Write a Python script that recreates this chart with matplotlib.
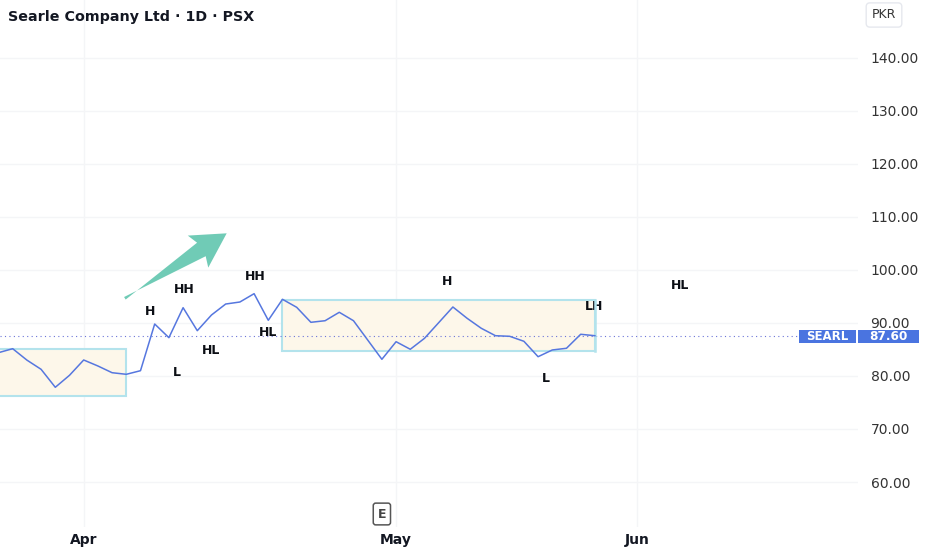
import numpy as np
import matplotlib
matplotlib.use("Agg")
import matplotlib.pyplot as plt
from matplotlib.patches import Rectangle, Polygon

# daily closes, one per trading bar (bar index on x)
closes = [84.4, 85.15, 83.0, 81.26, 77.87, 80.13, 83.02, 81.89, 80.62, 80.32,
          81.0, 89.81, 87.23, 92.89, 88.55, 91.51, 93.58, 93.96, 95.53, 90.51,
          94.47, 92.96, 90.13, 90.43, 92.02, 90.43, 86.79, 83.15, 86.47, 85.04,
          87.11, 90.06, 93.02, 90.89, 89.0, 87.6, 87.49, 86.55, 83.64, 84.91,
          85.23, 87.87, 87.6]
last_price = 87.60

month_ticks = [6, 28, 45]
month_labels = ["Apr", "May", "Jun"]
price_ticks = [60, 70, 80, 90, 100, 110, 120, 130, 140]

# range boxes: (start bar, end bar, low, high)
zones = [(-1, 9, 76.23, 85.0), (20, 42, 84.77, 94.34)]

# swing labels: text, bar, price
swing_text = ["H", "HH", "L", "HL", "HH", "HL", "H", "L", "LH", "HL"]
swing_bar = [10.67, 13.06, 12.57, 14.96, 18.06, 18.98, 31.58, 38.56, 41.94, 48.0]
swing_price = [92.08, 96.23, 80.75, 84.9, 98.68, 88.3, 97.92, 79.62, 93.2, 96.98]

# trend arrow (bar, price)
arrow_tail = (8.9, 94.66)
arrow_tip = (16.07, 106.92)

earnings_bar = 27.0

line_col = "#5677df"
label_col = "#4a74e0"
grid_col = "#f4f5f7"

W, H = 932, 550
fig = plt.figure(figsize=(W / 100, H / 100), dpi=100)
ax_left, ax_right, ax_top, ax_bottom = 0, 858, 0, 527
ax = fig.add_axes([ax_left / W, (H - ax_bottom) / H, (ax_right - ax_left) / W, (ax_bottom - ax_top) / H])

x = np.arange(len(closes))
ax.set_xlim(0.106, 60.53)
ax.set_ylim(51.51, 150.94)

for t in month_ticks:
    ax.axvline(t, color=grid_col, lw=1, zorder=0)
for p in price_ticks:
    ax.axhline(p, color=grid_col, lw=1, zorder=0)

for x0, x1, lo, hi in zones:
    ax.add_patch(Rectangle((x0, lo), x1 - x0, hi - lo, facecolor="#fdf7ea",
                           edgecolor="#b3e3ec", lw=1.5, zorder=1))

ax.plot(x, closes, color=line_col, lw=1.1, zorder=3)
ax.axhline(last_price, color="#6b74d8", lw=0.8, ls=(0, (1, 3)), zorder=2)

for s, b, p in zip(swing_text, swing_bar, swing_price):
    ax.text(b, p, s, ha="center", va="center", fontsize=9, fontweight="bold",
            color="#0b0e14", zorder=2)

# redraw right box edge on top of "LH" text
x0, x1, lo, hi = zones[1]
ax.plot([x1, x1], [lo, hi], color="#b3e3ec", lw=1.8, zorder=2.5)

# tapered arrow drawn in pixel space
T = ax.transData.transform(arrow_tail)
P = ax.transData.transform(arrow_tip)
u = (P - T) / np.linalg.norm(P - T)
n = np.array([-u[1], u[0]])
B = P - u * 30
pts = [T - n * 1.5, B + n * 8, B - u * 4 + n * 19, P, B - u * 4 - n * 19, B - n * 8, T + n * 1.5]
fig.patches.append(Polygon(pts, closed=True, transform=None, facecolor="#70cbb6",
                           edgecolor="none", figure=fig))

for s in ax.spines.values():
    s.set_visible(False)

ax.yaxis.tick_right()
ax.set_yticks(price_ticks)
ax.set_yticklabels([f"{p:.2f}" for p in price_ticks])
ax.tick_params(axis="y", length=0, pad=9, labelsize=10, labelcolor="#333333")
ax.set_xticks(month_ticks)
ax.set_xticklabels(month_labels)
ax.tick_params(axis="x", length=0, pad=4, labelsize=10, labelcolor="#131722")
for lab in ax.get_xticklabels():
    lab.set_fontweight("bold")

# last price labels
ytr = ax.get_yaxis_transform()
px_per_unit = (ax_bottom - ax_top) / (150.94 - 51.51)
hpx = 13 / px_per_unit
yc = last_price - 0.8 / px_per_unit
ax.add_patch(Rectangle((799 / ax_right, yc - hpx / 2), 57 / ax_right, hpx,
                       transform=ytr, facecolor=label_col, edgecolor="none", clip_on=False, zorder=5))
ax.add_patch(Rectangle((857.5 / ax_right, yc - hpx / 2), 61 / ax_right, hpx,
                       transform=ytr, facecolor=label_col, edgecolor="none", clip_on=False, zorder=5))
ax.text(827.5 / ax_right, yc, "SEARL", transform=ytr, ha="center", va="center",
        color="white", fontsize=8.5, fontweight="bold", zorder=6, clip_on=False)
ax.text(888 / ax_right, yc, f"{last_price:.2f}", transform=ytr, ha="center", va="center",
        color="white", fontsize=8.7, fontweight="bold", zorder=6, clip_on=False)

# earnings marker
ax.text(earnings_bar, (ax_bottom - 514) / (ax_bottom - ax_top), "E", transform=ax.get_xaxis_transform(),
        ha="center", va="center", fontsize=9, color="#444444", fontweight="bold",
        bbox=dict(boxstyle="round,pad=0.35,rounding_size=0.2", fc="white", ec="#555555", lw=1.1))

fig.text(8 / W, 1 - 17 / H, "Searle Company Ltd · 1D · PSX", ha="left", va="center",
         fontsize=10.3, fontweight="bold", color="#131722")
fig.text(884 / W, 1 - 15 / H, "PKR", ha="center", va="center", fontsize=9, color="#333333",
         bbox=dict(boxstyle="round,pad=0.45,rounding_size=0.3", fc="white", ec="#e6e8ee", lw=1))

fig.savefig("out.png", dpi=100)
